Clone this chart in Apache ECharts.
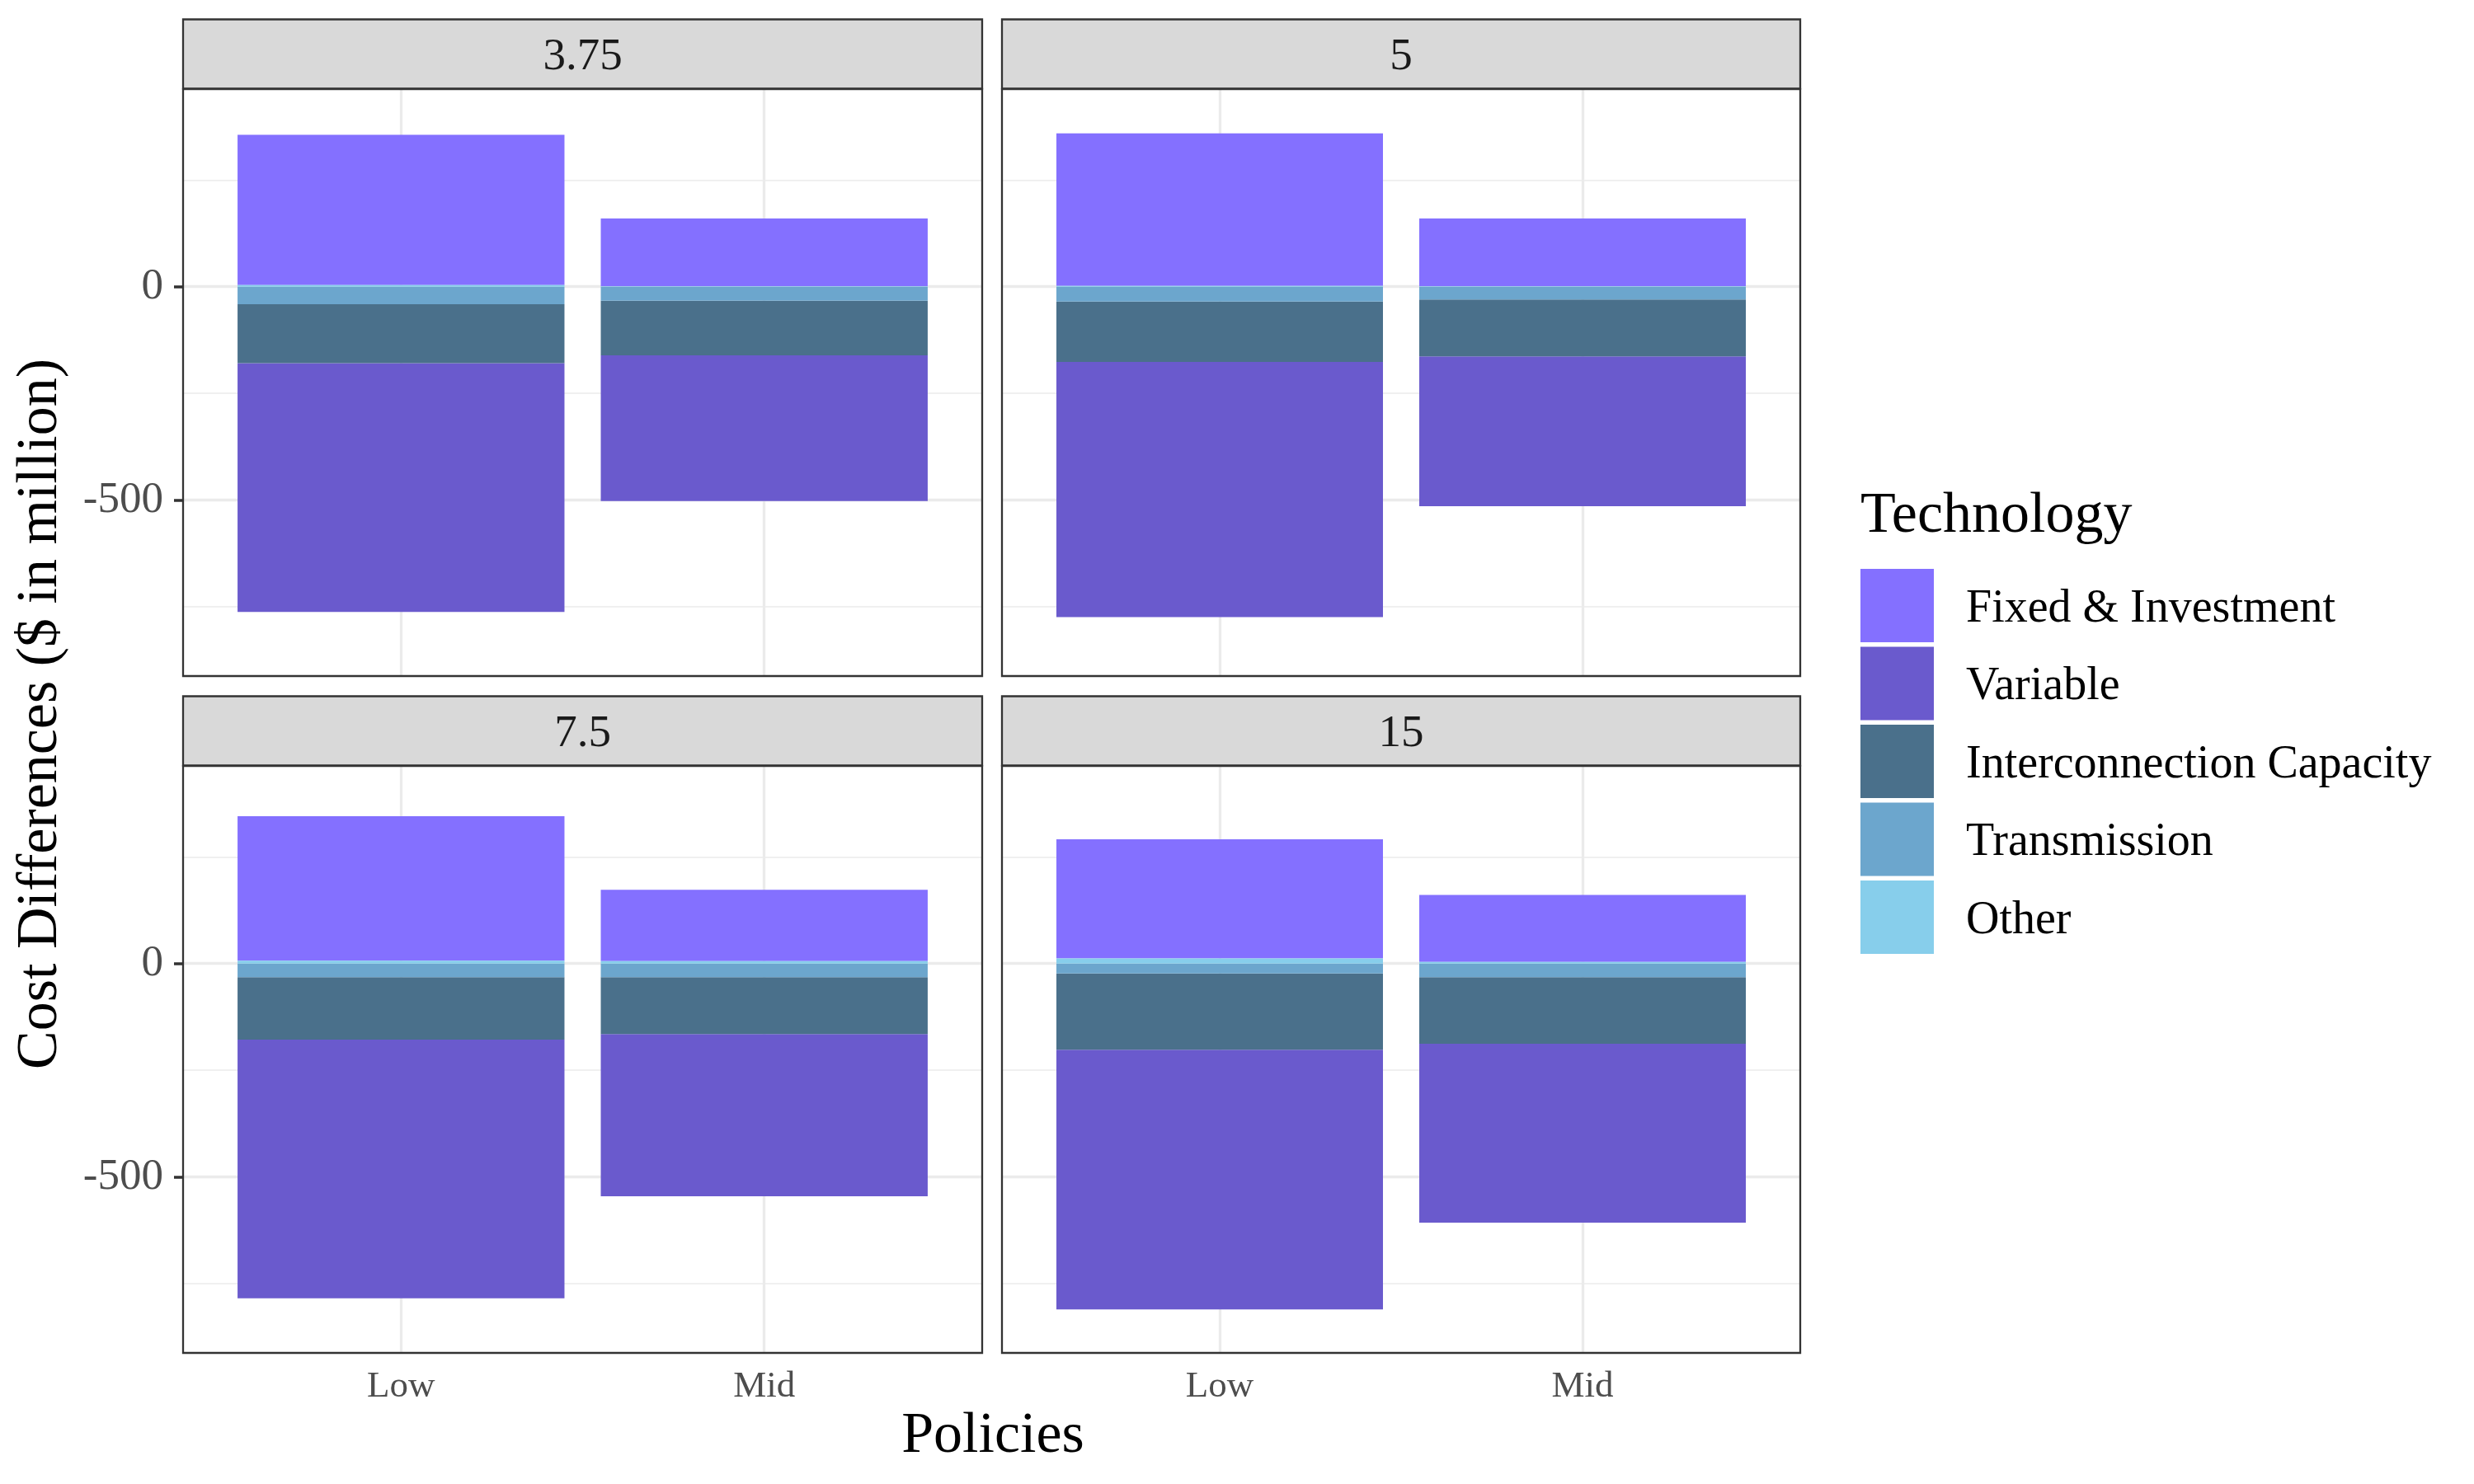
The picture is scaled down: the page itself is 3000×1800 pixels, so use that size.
<!DOCTYPE html>
<html>
<head>
<meta charset="utf-8">
<script src="https://cdn.jsdelivr.net/npm/echarts@6/dist/echarts.min.js"></script>
<style>
html,body{margin:0;padding:0;background:#fff;}
#chart{width:3000px;height:1800px;}
</style>
</head>
<body>
<div id="chart"></div>
<script>
// ---- data ----
const panels = ['3.75', '5', '7.5', '15'];
const policies = ['Low', 'Mid'];
const technologies = ['Fixed & Investment', 'Variable', 'Interconnection Capacity', 'Transmission', 'Other'];
// values per panel, [Low, Mid]  ($ in million)
const fixedInvestment = [[352, 159], [357, 159], [338, 167], [279, 157]];
const variable        = [[-583, -341], [-598, -351], [-606, -380], [-608, -419]];
const interconnection = [[-138, -128], [-141, -133], [-146, -133], [-179, -156]];
const transmission    = [[-41, -33], [-35, -30], [-32, -32], [-23, -32]];
const other           = [[4, 1], [2, 1], [7, 6], [12, 4]];
const yLabelBreaks = [-500, 0];
const yMinorBreaks = [-750, -250, 250];
const xBreaks = [1, 2];

// ---- styling ----
const colors = ['#8470FF', '#6A5ACD', '#4A708B', '#6CA6CD', '#87CEEB'];
const FONT = 'Liberation Serif, Times New Roman, serif';
const valuesByTech = [fixedInvestment, variable, interconnection, transmission, other];
const gridRects = [
  {left: 222, top: 108, width: 969, height: 712},
  {left: 1215, top: 108, width: 968, height: 712},
  {left: 222, top: 929, width: 969, height: 712},
  {left: 1215, top: 929, width: 968, height: 712}
];
const stripH = 84;

// ggplot-like stacking: last level nearest zero
function stackFor(p, j) {
  const res = new Array(technologies.length);
  let pos = 0, neg = 0;
  for (let t = technologies.length - 1; t >= 0; t--) {
    const v = valuesByTech[t][p][j];
    if (v >= 0) { res[t] = [pos, pos + v]; pos += v; }
    else { res[t] = [neg, neg + v]; neg += v; }
  }
  return res;
}

function renderBar(params, api) {
  const x = api.value(0), y0 = api.value(1), y1 = api.value(2);
  const a = api.coord([x - 0.45, y0]);
  const b = api.coord([x + 0.45, y1]);
  return {
    type: 'rect',
    shape: {x: a[0], y: Math.min(a[1], b[1]), width: b[0] - a[0], height: Math.abs(b[1] - a[1])},
    style: {fill: api.visual('color')}
  };
}

const grids = [], xAxes = [], yAxes = [], series = [], graphics = [];
panels.forEach((name, p) => {
  const g = gridRects[p];
  const bottomRow = p >= 2, leftCol = p % 2 === 0;
  grids.push(Object.assign({show: true, borderColor: '#333333', borderWidth: 2.3,
    backgroundColor: 'transparent', z: 10, containLabel: false}, g));
  xAxes.push({
    type: 'value', gridIndex: p, min: 0.4, max: 2.6,
    axisLine: {show: false}, splitLine: {show: false},
    axisTick: {show: bottomRow, customValues: xBreaks, length: 11, lineStyle: {color: '#333333', width: 3.5}},
    axisLabel: {show: bottomRow, customValues: xBreaks, margin: 19, fontSize: 45, color: '#4D4D4D',
      fontFamily: FONT, formatter: v => policies[Math.round(v) - 1]}
  });
  yAxes.push({
    type: 'value', gridIndex: p, min: -912, max: 463,
    axisLine: {show: false}, splitLine: {show: false},
    axisTick: {show: leftCol, customValues: yLabelBreaks, length: 11, lineStyle: {color: '#333333', width: 3.5}},
    axisLabel: {show: leftCol, customValues: yLabelBreaks, margin: 24, fontSize: 53, color: '#4D4D4D',
      fontFamily: FONT, padding: [6, 0, 0, 0]}
  });
  technologies.forEach((tech, t) => {
    const s = {
      type: 'custom', name: tech, xAxisIndex: p, yAxisIndex: p, z: 2,
      itemStyle: {color: colors[t]},
      renderItem: renderBar,
      encode: {x: 0, y: [1, 2]},
      data: policies.map((pol, j) => { const st = stackFor(p, j)[t]; return [j + 1, st[0], st[1]]; })
    };
    if (t === 0) {
      s.markLine = {
        silent: true, z: 1, symbol: ['none', 'none'], animation: false,
        label: {show: false},
        lineStyle: {color: '#EBEBEB', type: 'solid', width: 3.3},
        data: [
          ...yMinorBreaks.map(v => ({yAxis: v, lineStyle: {color: '#EBEBEB', type: 'solid', width: 1.7}})),
          ...yLabelBreaks.map(v => ({yAxis: v})),
          ...xBreaks.map(v => ({xAxis: v}))
        ]
      };
    }
    series.push(s);
  });
  // strip
  graphics.push({
    type: 'rect', z: 20,
    shape: {x: g.left, y: g.top - stripH - 0.5, width: g.width, height: stripH},
    style: {fill: '#D9D9D9', stroke: '#333333', lineWidth: 2.3}
  });
  graphics.push({
    type: 'text', z: 21, x: g.left + g.width / 2, y: g.top - stripH / 2 + 3.5,
    style: {text: name, fontSize: 55, fontFamily: FONT, fill: '#1A1A1A', align: 'center', verticalAlign: 'middle'}
  });
});

graphics.push({
  type: 'text', z: 21, x: 1204, y: 1743,
  style: {text: 'Policies', fontSize: 70, fontFamily: FONT, fill: '#000', align: 'center', verticalAlign: 'middle'}
});
graphics.push({
  type: 'text', z: 21, x: 50, y: 866, rotation: Math.PI / 2,
  style: {text: 'Cost Differences ($ in million)', fontSize: 70, fontFamily: FONT, fill: '#000', align: 'center', verticalAlign: 'middle'}
});
graphics.push({
  type: 'text', z: 21, x: 2256, y: 627,
  style: {text: 'Technology', fontSize: 70, fontFamily: FONT, fill: '#000', align: 'left', verticalAlign: 'middle'}
});

const chart = echarts.init(document.getElementById('chart'), null, {renderer: 'canvas'});
chart.setOption({
  animation: false,
  backgroundColor: '#fff',
  grid: grids,
  xAxis: xAxes,
  yAxis: yAxes,
  legend: {
    data: technologies, orient: 'vertical', left: 2256, top: 690, padding: 0,
    icon: 'rect', itemWidth: 89, itemHeight: 89, itemGap: 5.5,
    selectedMode: false,
    formatter: '{t|{name}}',
    textStyle: {fontSize: 56, fontFamily: FONT, color: '#000',
      rich: {t: {fontSize: 56, fontFamily: FONT, color: '#000', padding: [9, 0, 0, 34]}}}
  },
  graphic: graphics,
  series: series
});
</script>
</body>
</html>
